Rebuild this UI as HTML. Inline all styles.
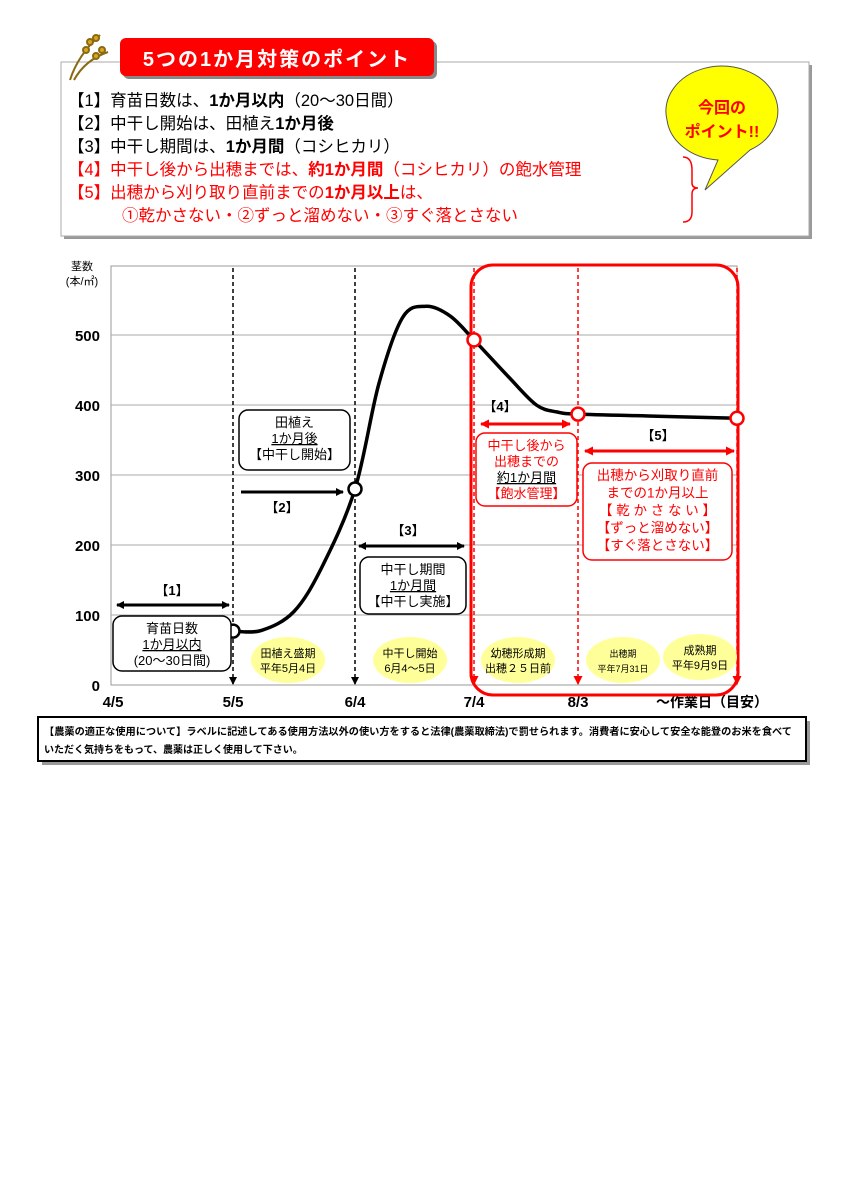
<!DOCTYPE html>
<html><head><meta charset="utf-8">
<style>
body{margin:0;background:#fff;width:842px;height:1191px;overflow:hidden}
svg{display:block;font-family:"Liberation Sans","Noto Sans CJK JP",sans-serif}
</style></head><body>
<svg id="s" width="842" height="1191" viewBox="0 0 842 1191" xmlns="http://www.w3.org/2000/svg">
<defs>
<marker id="ab" markerWidth="8" markerHeight="8" refX="7" refY="4" orient="auto-start-reverse" markerUnits="userSpaceOnUse"><path d="M0,0L8,4L0,8z" fill="#000"/></marker>
<marker id="ar" markerWidth="9" markerHeight="9" refX="8" refY="4.5" orient="auto-start-reverse" markerUnits="userSpaceOnUse"><path d="M0,0L9,4.5L0,9z" fill="#f00"/></marker>
</defs>
<g>
<rect x="64" y="65" width="748" height="174" fill="#999"/>
<rect x="61" y="62" width="748" height="174" fill="#fff" stroke="#aaa"/>
<g stroke="#8a6a10" stroke-width="2" fill="none">
<path d="M70,80 Q78,55 100,35"/><path d="M74,80 Q85,60 108,52"/>
<circle cx="90" cy="42" r="3" fill="#d9a520"/><circle cx="96" cy="38" r="3" fill="#d9a520"/><circle cx="102" cy="50" r="3" fill="#d9a520"/><circle cx="86" cy="50" r="3" fill="#d9a520"/><circle cx="96" cy="56" r="3" fill="#d9a520"/>
</g>
<rect x="123" y="41" width="314" height="38" rx="6" fill="#888"/>
<rect x="120" y="38" width="314" height="38" rx="6" fill="#f00"/>
<text x="277" y="66" text-anchor="middle" font-size="20" font-weight="bold" fill="#fff" letter-spacing="2">5つの1か月対策のポイント</text>
<g font-size="16.5">
<text x="68" y="106">【1】育苗日数は、<tspan font-weight="bold">1か月以内</tspan>（20～30日間）</text>
<text x="68" y="129">【2】中干し開始は、田植え<tspan font-weight="bold">1か月後</tspan></text>
<text x="68" y="152">【3】中干し期間は、<tspan font-weight="bold">1か月間</tspan>（コシヒカリ）</text>
<text x="68" y="175" fill="#f00">【4】中干し後から出穂までは、<tspan font-weight="bold">約1か月間</tspan>（コシヒカリ）の飽水管理</text>
<text x="68" y="198" fill="#f00">【5】出穂から刈り取り直前までの<tspan font-weight="bold">1か月以上</tspan>は、</text>
<text x="122" y="221" fill="#f00">①乾かさない・②ずっと溜めない・③すぐ落とさない</text>
</g>
<path d="M683,157 Q692,157 692,170 L692,183 Q692,188 698,188 Q692,188 692,194 L692,212 Q692,222 683,222" fill="none" stroke="#f00" stroke-width="1.5"/>
<path d="M667,120 A56,45 0 1 1 750,150 L705,190 L718,160 A56,45 0 0 1 667,120z" fill="#ff0" stroke="#555"/>
<text x="722" y="113" text-anchor="middle" font-size="16" font-weight="bold" fill="#f00">今回の</text>
<text x="722" y="137" text-anchor="middle" font-size="16" font-weight="bold" fill="#f00">ポイント!!</text>
</g>

<g id="chart"></g>

<g>
<rect x="42" y="721" width="768" height="44" fill="#999"/>
<rect x="38" y="717" width="768" height="44" fill="#fff" stroke="#000" stroke-width="2"/>
<text x="44" y="735" font-size="10" font-weight="bold" textLength="748" lengthAdjust="spacingAndGlyphs">【農薬の適正な使用について】ラベルに記述してある使用方法以外の使い方をすると法律(農薬取締法)で罰せられます。消費者に安心して安全な能登のお米を食べて</text>
<text x="44" y="753" font-size="10" font-weight="bold">いただく気持ちをもって、農薬は正しく使用して下さい。</text>
</g>
</svg>
<script>
const tickLabels=["4/5","5/5","6/4","7/4","8/3"];
const tickDays=[0,30,60,90,120];
const yTicks=[0,100,200,300,400,500];
const curveDays=[30,37,45,52,60,66,72,78,84,90,100,108,114,120,140,160];
const curveVals=[77,78,105,170,280,430,525,541,527,493,440,400,390,387,384,381];
const markerDays=[30,60,90,120,160];
const markerVals=[77,280,493,387,381];
const NS="http://www.w3.org/2000/svg";
const g=document.getElementById('chart');
const domD=[0,30,60,90,120,160], rngX=[113,233,355,474,578,737];
function xs(d){for(let i=0;i<domD.length-1;i++){if(d<=domD[i+1]||i==domD.length-2){return rngX[i]+(d-domD[i])/(domD[i+1]-domD[i])*(rngX[i+1]-rngX[i]);}}}
function ys(v){return 685-v*0.7;}
function el(t,a,p){const e=document.createElementNS(NS,t);for(const k in a)e.setAttribute(k,a[k]);(p||g).appendChild(e);return e;}
function tx(x,y,s,a){const e=el('text',Object.assign({x:x,y:y},a||{}));e.textContent=s;return e;}
let f=el('rect',{x:111,y:266,width:626,height:419,fill:'none',stroke:'#999'});


yTicks.forEach(v=>{
 if(v>0){const l=el('line',{x1:111,x2:737,y1:ys(v),y2:ys(v),stroke:'#aaa'});
 
 }
 const t=tx(100,ys(v)+6,String(v),{'text-anchor':'end','font-size':15,'font-weight':'bold'});
 
 
});
const yt=tx(82,270,'茎数',{'text-anchor':'middle','font-size':11});


tx(82,285,'(本/㎡)',{'text-anchor':'middle','font-size':11});
tickDays.forEach((d,i)=>{
 const t=tx(xs(d),707,tickLabels[i],{'text-anchor':'middle','font-size':15,'font-weight':'bold'});
 
 
});
const xt=tx(712,707,'～作業日（目安）',{'text-anchor':'middle','font-size':14,'font-weight':'bold'});


[[30,'#000','ab'],[60,'#000','ab'],[90,'#f00','ar'],[120,'#f00','ar'],[160,'#f00','ar']].forEach(a=>{
 const l=el('line',{x1:xs(a[0]),x2:xs(a[0]),y1:268,y2:684,stroke:a[1],'stroke-width':1.5,'stroke-dasharray':'4,3','marker-end':'url(#'+a[2]+')'});
 
 
});
const rf=el('rect',{x:471,y:265,width:267,height:430,rx:22,fill:'none',stroke:'#f00','stroke-width':3});


[[288,660,'田植え盛期','平年5月4日',11],[410,660,'中干し開始','6月4～5日',11],[518,660,'幼穂形成期','出穂２５日前',11],[623,660,'出穂期','平年7月31日',9],[700,657,'成熟期','平年9月9日',11]].forEach(a=>{
 const e=el('ellipse',{cx:a[0],cy:a[1],rx:37,ry:23,fill:'#ffff99'});
 
 
 tx(a[0],a[1]-3,a[2],{'text-anchor':'middle','font-size':a[4]});
 tx(a[0],a[1]+12,a[3],{'text-anchor':'middle','font-size':a[4]});
});
const P=curveDays.map((d,i)=>[xs(d),ys(curveVals[i])]);
let dstr='M'+P[0][0]+','+P[0][1];
for(let i=0;i<P.length-1;i++){const p0=P[i-1]||P[i],p1=P[i],p2=P[i+1],p3=P[i+2]||p2;
 dstr+=' C'+(p1[0]+(p2[0]-p0[0])/6)+','+(p1[1]+(p2[1]-p0[1])/6)+' '+(p2[0]-(p3[0]-p1[0])/6)+','+(p2[1]-(p3[1]-p1[1])/6)+' '+p2[0]+','+p2[1];}
const c=el('path',{d:dstr,fill:'none',stroke:'#000','stroke-width':3.5});


markerDays.forEach((d,i)=>{
 const m=el('circle',{cx:xs(d),cy:ys(markerVals[i]),r:6.5,fill:'#fff',stroke:i>=2?'#f00':'#000','stroke-width':2.5});
 
 
});
function arrow(x1,x2,y,col,both,name){const l=el('line',{x1:x1,x2:x2,y1:y,y2:y,stroke:col,'stroke-width':3,'marker-end':'url(#'+(col=='#000'?'ab':'ar')+')'});
 if(both)l.setAttribute('marker-start','url(#'+(col=='#000'?'ab':'ar')+')');
 
 }
arrow(117,229,605,'#000',1,'arrow-1');arrow(241,343,492,'#000',0,'arrow-2');arrow(359,464,546,'#000',1,'arrow-3');
arrow(481,570,424,'#f00',1,'arrow-4');arrow(585,734,451,'#f00',1,'arrow-5');
[[172,595,'【1】','#000'],[282,512,'【2】','#000'],[408,535,'【3】','#000'],[500,411,'【4】','#000'],[658,440,'【5】','#000']].forEach(a=>{
 const t=tx(a[0],a[1],a[2],{'text-anchor':'middle','font-size':13,'font-weight':'bold',fill:a[3]});
 
 
});
function box(x,y,w,h,col,lines,name,fs){const r=el('rect',{x:x,y:y,width:w,height:h,rx:9,fill:'#fff',stroke:col,'stroke-width':1.5});
 
 
 lines.forEach((L,i)=>{const t=tx(x+w/2,y+17+i*L[2],L[0],{'text-anchor':'middle','font-size':fs,fill:L[1]});if(L[3])t.setAttribute('text-decoration','underline');});}
box(113,616,118,55,'#000',[['育苗日数','#000',16],['1か月以内','#000',16,1],['(20～30日間)','#000',16]],'box-1',13);
box(239,410,111,60,'#000',[['田植え','#000',16],['1か月後','#000',16,1],['【中干し開始】','#000',16]],'box-2',13);
box(360,557,106,57,'#000',[['中干し期間','#000',16],['1か月間','#000',16,1],['【中干し実施】','#000',16]],'box-3',13);
box(476,433,101,73,'#f00',[['中干し後から','#f00',16],['出穂までの','#f00',16],['約1か月間','#000',16,1],['【飽水管理】','#f00',16]],'box-4',13);
box(583,463,149,97,'#f00',[['出穂から刈取り直前','#f00',17.5],['までの1か月以上','#f00',17.5],['【 乾 か さ な い 】','#f00',17.5],['【ずっと溜めない】','#f00',17.5],['【すぐ落とさない】','#f00',17.5]],'box-5',13.5);
</script>
</body></html>
